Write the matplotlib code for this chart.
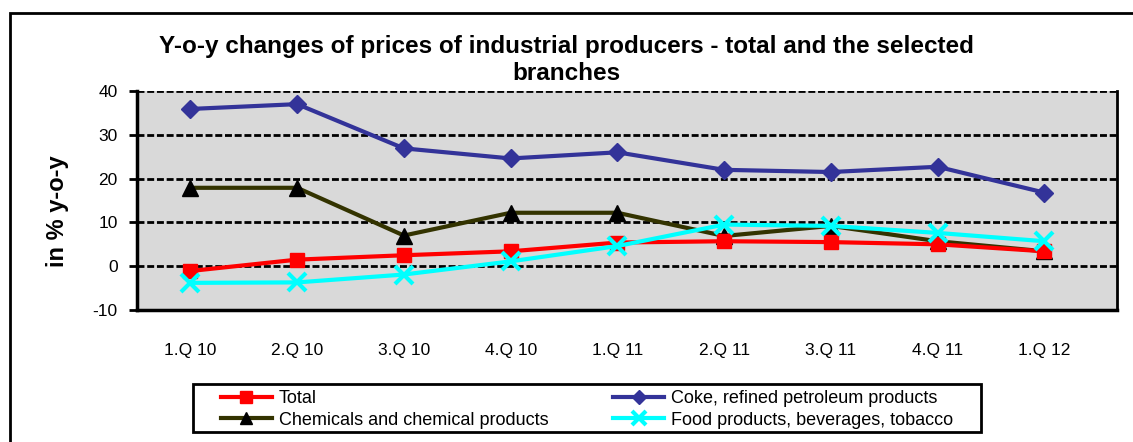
import matplotlib.pyplot as plt
from matplotlib.patches import Rectangle

plt.rcParams["font.family"] = ["Liberation Sans", "DejaVu Sans"]
plt.rcParams["axes.unicode_minus"] = False

quarters = ["1.Q 10", "2.Q 10", "3.Q 10", "4.Q 10", "1.Q 11",
            "2.Q 11", "3.Q 11", "4.Q 11", "1.Q 12"]
total = [-1.1, 1.5, 2.5, 3.4, 5.4, 5.7, 5.5, 5.0, 3.4]
coke = [35.9, 37.0, 26.9, 24.6, 26.0, 22.0, 21.5, 22.7, 16.8]
chemicals = [17.9, 17.9, 7.0, 12.2, 12.2, 6.9, 9.2, 5.7, 3.4]
food = [-3.8, -3.7, -1.9, 1.1, 4.6, 9.5, 9.2, 7.6, 5.7]

W, H = 1133, 442
fig = plt.figure(figsize=(W / 100, H / 100), dpi=100)
ax = fig.add_axes([137 / W, 1 - 310 / H, (1117 - 137) / W, (310 - 91) / H])

# outer chart frame (runs off the right and bottom of the image)
fig.patches.append(Rectangle((10 / W, -0.1), 1.2, 1 - 13 / H + 0.1,
                             transform=fig.transFigure, fill=False,
                             edgecolor="black", linewidth=2))

x = range(len(quarters))
ax.set_facecolor("#D9D9D9")
for v in [-10, 0, 10, 20, 30, 40]:
    ax.axhline(v, color="black", linewidth=2, linestyle=(0, (2.5, 1)), zorder=1)

ax.plot(x, coke, color="#333399", lw=3, marker="D", ms=9, label="Coke, refined petroleum products", zorder=3)
ax.plot(x, chemicals, color="#333300", lw=3, marker="^", ms=11, mfc="black", mec="black",
        label="Chemicals and chemical products", zorder=3)
ax.plot(x, total, color="red", lw=3, marker="s", ms=10, label="Total", zorder=3)
ax.plot(x, food, color="#00FFFF", lw=3, marker="x", ms=13, mew=3,
        label="Food products, beverages, tobacco", zorder=4)

ax.set_xlim(-0.5, len(quarters) - 0.32)
ax.set_ylim(-10, 40)
ax.set_yticks([-10, 0, 10, 20, 30, 40])
ax.set_xticks(list(x))
ax.set_xticklabels(quarters)
ax.tick_params(axis="x", length=0, labelsize=12.5, pad=24)
ax.tick_params(axis="y", length=6, width=2, labelsize=12.5, pad=8)
for s in ["left", "bottom"]:
    ax.spines[s].set_linewidth(2.5)
ax.spines["right"].set_linewidth(2)
ax.spines["top"].set_visible(False)

ax.set_ylabel("in % y-o-y", fontsize=17, fontweight="bold")
ax.yaxis.set_label_coords(-(137 - 69) / 980, (310 - 211) / 219)
fig.text(0.5, 1 - 60 / H, "Y-o-y changes of prices of industrial producers - total and the selected\nbranches",
         ha="center", va="center", fontsize=17.5, fontweight="bold", linespacing=1.2)

# legend: frame drawn separately so it can be placed exactly
fig.patches.append(Rectangle((193 / W, 1 - 432 / H), (981 - 193) / W, 48 / H,
                             transform=fig.transFigure, fill=False,
                             edgecolor="black", linewidth=2, zorder=5))
h, l = ax.get_legend_handles_labels()
order = [2, 1, 0, 3]
leg = fig.legend([h[i] for i in order], [l[i] for i in order], ncol=2,
                 loc="upper left", bbox_to_anchor=(221 / W, 1 - 390 / H),
                 fontsize=13, frameon=False, borderpad=0, borderaxespad=0,
                 handlelength=2.8, handletextpad=0.4, columnspacing=3.6,
                 labelspacing=0.25, markerscale=0.8)

fig.savefig("out.png", dpi=100)
